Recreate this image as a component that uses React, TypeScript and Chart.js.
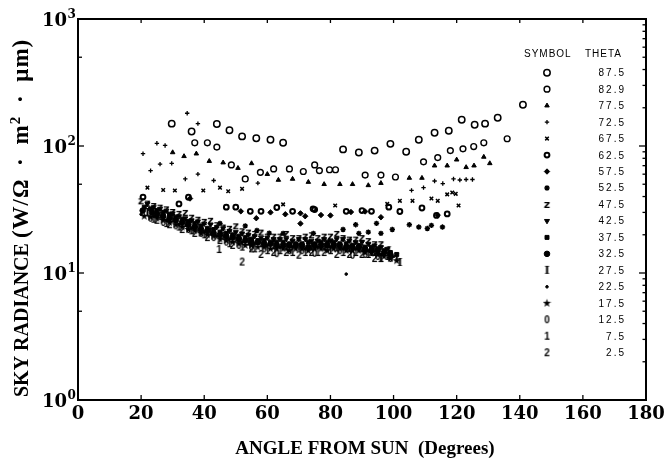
import React, { useEffect, useRef } from 'react';
import { Chart, registerables } from 'chart.js';
import { drawPoint } from 'chart.js/helpers';

Chart.register(...registerables);

type P = [number, number];

const THETA = ['87.5', '82.9', '77.5', '72.5', '67.5', '62.5', '57.5', '52.5', '47.5', '42.5', '37.5', '32.5', '27.5', '22.5', '17.5', '12.5', '7.5', '2.5'];
const X_TICKS = [0, 20, 40, 60, 80, 100, 120, 140, 160, 180];
const Y_DECADES = [1, 10, 100, 1000];
const Y_EXP = ['0', '1', '2', '3'];
const Y_LEFT_MINOR = [5, 50, 500];
const Y_RIGHT_MINOR = [2, 3, 4, 5, 6, 7, 8, 9, 20, 30, 40, 50, 60, 70, 80, 90, 200, 300, 400, 500, 600, 700, 800, 900];
const X_TITLE = 'ANGLE FROM SUN  (Degrees)';
const Y_TITLE_MAIN = 'SKY RADIANCE ';
const Y_TITLE_UNIT = '(W/Ω · m² · μm)';
const LEGEND_HEAD = ['SYMBOL', 'THETA'];

// [angle from sun (deg), sky radiance]
const s875: P[] = [[29.7, 150], [36, 130], [44, 149], [48, 133], [52, 119], [56.5, 115], [61, 112], [65, 106], [84, 94], [89, 89], [94, 92], [99, 104], [104, 90], [108, 112], [113, 127], [117.5, 132], [121.6, 161], [125.7, 147], [129, 150], [133, 167], [141, 211]];
const s829: P[] = [[37, 106], [41, 106], [44, 98], [48.6, 71], [53, 55], [57.8, 62], [62, 66], [67, 66], [71.4, 63], [75, 71], [76.5, 64], [79.7, 65], [81.6, 65], [91, 59], [96, 59], [100.6, 57], [109.5, 75], [114, 81], [118, 92], [122, 95], [125.4, 99], [128.6, 106], [136, 114]];
const s775: P[] = [[30, 89], [33.6, 83], [37.5, 87], [41.6, 76], [46, 74], [50.7, 67], [55, 73], [60, 60], [63.5, 54], [68, 55], [73, 52], [78, 50], [83, 50], [87, 50], [92, 49], [96, 51], [105, 56], [109, 56], [113, 70], [117, 70], [120, 78], [123, 68], [125.5, 70], [128.6, 82], [130.5, 73]];
const s725: P[] = [[20.6, 87], [23, 64], [25, 105], [26, 72], [27.6, 101], [29.7, 73], [34, 55], [34.6, 181], [38, 150], [38, 60], [43, 53.5], [57, 51], [105.7, 44.7], [109.5, 47], [113, 53], [115.6, 50.6], [119, 55], [121, 54], [123, 54.5], [125, 54.5]];
const s675: P[] = [[22, 47], [27, 45], [30.7, 44.6], [39.7, 44.6], [45, 47], [47.6, 44], [52, 46], [65, 34.7], [81.5, 34], [98, 35], [102, 37], [106, 37], [112, 38.6], [114, 37], [117, 41.6], [118.6, 43], [119.7, 42], [120.6, 34]];
const s625: P[] = [[20.6, 39.6], [32, 35], [35, 39.5], [47, 33], [50, 33], [54.6, 30.6], [58, 30.6], [63, 32.8], [68, 30.6], [74.5, 32], [75, 31.6], [85, 30.6], [90, 31], [93, 30.6], [98.5, 33], [102, 30.5], [109, 32.5], [113.6, 28.4], [117, 29.2]];
const s575: P[] = [[35.5, 38.6], [51.6, 30.6], [56.5, 27], [61, 30], [65.7, 29], [70.5, 29.5], [70.5, 24.5], [72, 28], [77, 28.6], [80, 28.4], [86.5, 30.2], [91, 30.5], [96, 27.5], [114, 28.5]];
const s525: P[] = [[45, 24.6], [53, 23.5], [56.7, 21.6], [60.6, 20.6], [65, 20.5], [74.6, 20.5], [84, 22], [88, 24], [89, 20.5], [92, 21], [94.6, 24.6], [96, 20.5], [99.6, 22], [105, 24], [108, 23], [110.7, 22.4], [112, 23.7], [115.5, 23]];
const s475: P[] = [[20, 37], [22, 35.5], [24, 34], [26, 33], [28, 32], [30, 30.5], [32, 29.5], [34, 30], [36, 27.5], [38, 26.5], [40, 25.5], [42, 26], [44, 24], [46, 23], [48, 22.5], [50, 23.5], [52, 21.5], [54, 21], [56, 20.5], [58, 21], [60, 19.5], [62, 19.5], [64, 19.5], [66, 20.5], [68, 19], [70, 19], [72, 19.5], [74, 20], [76, 19], [78, 19.5], [80, 19.5], [82, 20.5], [84, 19], [86, 18.5], [88, 18.5], [90, 19], [92, 18], [94, 17], [96, 17]];
const s425: P[] = [[22, 35], [24, 33], [26, 32], [28, 31], [30, 29.5], [32, 28], [34, 27], [36, 26], [38, 25.5], [40, 24.5], [42, 24], [44, 23], [46, 22.5], [48, 21.5], [50, 21], [52, 20.5], [54, 20], [56, 19.5], [58, 19], [60, 19], [62, 18.5], [64, 18.5], [66, 18.5], [68, 18], [70, 18.5], [72, 18.5], [74, 18], [76, 18], [78, 18.5], [80, 18], [82, 18.5], [84, 18.5], [86, 18], [88, 17.5], [90, 17.5], [92, 17], [94, 16.5], [96, 16], [98, 15.5]];
const s375: P[] = [[21, 33], [23, 32], [25, 31], [27, 30], [29, 29], [31, 27.5], [33, 26.5], [35, 25.5], [37, 24.5], [39, 23.5], [41, 22.5], [43, 22], [45, 21], [47, 20.5], [49, 20], [51, 19.5], [53, 19], [55, 18.5], [57, 18], [59, 18], [61, 17.5], [63, 17.5], [65, 17.5], [67, 17], [69, 17], [71, 17], [73, 17.5], [75, 17], [77, 17.5], [79, 17.5], [81, 17.5], [83, 17], [85, 17], [87, 16.5], [89, 16.5], [91, 16], [93, 16], [95, 15.5], [97, 15], [99, 14.5], [101, 14]];
const s325: P[] = [[20.5, 31], [23.5, 30], [25, 29], [27, 28], [29, 27], [31, 26], [33, 25], [35, 24], [37, 23], [39, 22], [41, 21.5], [43, 20.5], [45, 20], [47, 19.5], [49, 19], [51, 18.5], [53, 18], [55, 17.5], [57, 17.5], [59, 17], [61, 17], [63, 16.5], [65, 16.5], [67, 16.5], [69, 16.5], [71, 16.5], [73, 16], [75, 16.5], [77, 16.5], [79, 16.5], [81, 16.5], [83, 16.5], [85, 16], [87, 16], [89, 16], [91, 15.5], [93, 15], [95, 15], [97, 14.5], [99, 14]];
const s275: P[] = [[22, 30], [26, 28], [30, 26.5], [34, 24.5], [38, 22.5], [42, 21], [46, 19.5], [50, 18.5], [54, 17.5], [58, 17], [62, 16.5], [66, 16], [70, 16], [74, 16], [78, 16], [82, 16], [86, 15.5], [90, 15.5], [93, 14.5], [94, 14.5], [96, 13], [98, 13.5], [98.5, 15], [101, 13.3], [102, 12.1]];
const s225: P[] = [[20, 29], [24, 28], [28, 26], [32, 24], [36, 22.5], [40, 21], [44, 19.5], [48, 18.5], [52, 17.5], [56, 17], [60, 16.5], [64, 16], [68, 16], [72, 15.5], [76, 16], [80, 16], [84, 15.5], [85, 9.8], [88, 15.5], [92, 15], [96, 14], [100, 13.5]];
const s175: P[] = [[21, 28], [23, 27.5], [25, 27], [27, 26], [29, 25], [31, 24], [33, 23], [35, 22], [37, 21.5], [39, 20.5], [41, 20], [43, 19.5], [45, 18.5], [47, 18], [49, 17.5], [51, 17], [53, 16.5], [55, 16.5], [57, 16], [59, 16], [61, 15.5], [63, 15.5], [65, 15.5], [67, 15], [69, 15.5], [71, 15.5], [73, 15], [75, 15.5], [77, 15.5], [79, 15], [81, 15.5], [83, 15.5], [85, 15], [87, 15], [89, 15], [91, 14.5], [93, 14.5], [95, 14], [97, 13.5], [99, 13], [101, 12.5]];
const s125: P[] = [[23, 27], [27, 25], [31, 23.5], [35, 22], [39, 20.5], [43, 19], [47, 17.5], [51, 16.5], [55, 16], [59, 15.5], [63, 14.2], [67, 15], [71, 15], [75, 14.3], [79, 15.5], [83, 15], [87, 13.8], [91, 14], [95, 13.5], [99, 13]];
const s75: P[] = [[24, 26.5], [28, 24.5], [32, 23], [36, 21.5], [40, 20], [44.7, 15.3], [48, 17], [52, 16], [56, 15.5], [60, 15], [64, 15], [68, 14.5], [72, 14.5], [76, 14.5], [80, 15], [84, 14.5], [88, 14.5], [92, 14], [96, 13]];
const s25: P[] = [[25, 26], [29, 24], [33, 22], [37, 20.5], [41, 19], [45, 18], [49, 16.5], [52, 12.2], [55, 15.5], [58, 14], [62, 14.5], [66, 14.5], [70, 13.8], [74, 14.5], [78, 14.5], [82, 14], [86, 14], [90, 14], [94, 13]];

const SERIES: P[][] = [s875, s829, s775, s725, s675, s625, s575, s525, s475, s425, s375, s325, s275, s225, s175, s125, s75, s25];

type Sty = { ps?: string; glyph?: string; gfont?: string; r: number; bw: number; fill: boolean; rot?: number };
const STYLES: Sty[] = [
  { ps: 'circle', r: 3.2, bw: 1.5, fill: false },
  { ps: 'circle', r: 2.9, bw: 1.4, fill: false },
  { ps: 'triangle', r: 2.6, bw: 1, fill: true },
  { ps: 'cross', r: 2.2, bw: 1.3, fill: true },
  { ps: 'crossRot', r: 2.5, bw: 1.5, fill: true },
  { ps: 'circle', r: 2.4, bw: 2, fill: false },
  { ps: 'rectRot', r: 2.7, bw: 1, fill: true },
  { ps: 'star', r: 2.7, bw: 1.4, fill: true },
  { glyph: 'z', gfont: 'bold 11px "DejaVu Sans"', r: 3, bw: 1, fill: true },
  { ps: 'triangle', r: 2.9, bw: 1, fill: true, rot: 180 },
  { ps: 'rect', r: 2.8, bw: 1, fill: true },
  { ps: 'circle', r: 2.8, bw: 1, fill: true },
  { glyph: 'I', gfont: 'bold 11px "DejaVu Serif"', r: 3, bw: 1, fill: true },
  { ps: 'circle', r: 1.3, bw: 1, fill: true },
  { glyph: '★', gfont: '11px "DejaVu Sans"', r: 3, bw: 1, fill: true },
  { glyph: '0', gfont: 'bold 10px "Liberation Sans"', r: 3, bw: 1, fill: true },
  { glyph: '1', gfont: 'bold 10px "Liberation Sans"', r: 3, bw: 1, fill: true },
  { glyph: '2', gfont: 'bold 10px "Liberation Sans"', r: 3, bw: 1, fill: true },
];

function makeGlyph(ch: string, font: string) {
  const c = document.createElement('canvas');
  c.width = 9;
  c.height = 11;
  const g = c.getContext('2d')!;
  g.fillStyle = '#000';
  g.font = font;
  g.textAlign = 'center';
  g.textBaseline = 'middle';
  g.fillText(ch, 4.5, 6);
  return c;
}

export default function App() {
  const ref = useRef<HTMLCanvasElement>(null);

  useEffect(() => {
    const styles: any[] = STYLES.map((s) => (s.glyph ? makeGlyph(s.glyph, s.gfont!) : s.ps));

    const datasets = SERIES.map((d, i) => {
      const st = STYLES[i];
      return {
        label: THETA[i],
        data: d.map(([x, y]) => ({ x, y })),
        pointStyle: styles[i],
        pointRadius: st.r,
        pointHoverRadius: st.r,
        pointRotation: st.rot || 0,
        pointBorderWidth: st.bw,
        borderColor: '#000',
        backgroundColor: st.fill ? '#000' : 'rgba(0,0,0,0)',
        showLine: false,
      };
    });

    const overlay = {
      id: 'overlay',
      afterDraw(chart: any) {
        const ctx: CanvasRenderingContext2D = chart.ctx;
        const ca = chart.chartArea;
        const xs = chart.scales.x;
        const ys = chart.scales.y;
        ctx.save();
        ctx.strokeStyle = '#000';
        ctx.fillStyle = '#000';
        ctx.lineWidth = 2;
        ctx.strokeRect(ca.left, ca.top, ca.right - ca.left, ca.bottom - ca.top);
        const line = (x1: number, y1: number, x2: number, y2: number) => {
          ctx.beginPath();
          ctx.moveTo(x1, y1);
          ctx.lineTo(x2, y2);
          ctx.stroke();
        };
        ctx.lineWidth = 1.3;
        X_TICKS.forEach((v) => {
          const px = xs.getPixelForValue(v);
          line(px, ca.bottom, px, ca.bottom - 5);
          line(px, ca.top, px, ca.top + 4);
        });
        Y_DECADES.forEach((v) => {
          const py = ys.getPixelForValue(v);
          line(ca.left, py, ca.left + 6, py);
          line(ca.right, py, ca.right - 7, py);
        });
        Y_LEFT_MINOR.forEach((v) => {
          const py = ys.getPixelForValue(v);
          line(ca.left, py, ca.left + 4, py);
        });
        Y_RIGHT_MINOR.forEach((v) => {
          const py = ys.getPixelForValue(v);
          line(ca.right, py, ca.right - 3.5, py);
        });

        ctx.font = 'bold 18px "DejaVu Serif"';
        ctx.textAlign = 'center';
        ctx.textBaseline = 'alphabetic';
        X_TICKS.forEach((v) => {
          ctx.fillText(String(v), xs.getPixelForValue(v), 419);
        });
        Y_DECADES.forEach((v, i) => {
          const py = ys.getPixelForValue(v);
          ctx.font = 'bold 18px "DejaVu Serif"';
          ctx.textAlign = 'right';
          ctx.fillText('10', 67, py + 6.5);
          ctx.font = 'bold 12px "DejaVu Serif"';
          ctx.textAlign = 'left';
          ctx.fillText(Y_EXP[i], 67.5, py - 1.5);
        });

        ctx.font = 'bold 19px "Liberation Serif"';
        ctx.textAlign = 'center';
        ctx.fillText(X_TITLE, 365, 454);

        // y title
        ctx.save();
        ctx.translate(28, 0);
        ctx.rotate(-Math.PI / 2);
        ctx.textAlign = 'left';
        const startX = -397;
        const endX = -22;
        ctx.font = 'bold 20px "Liberation Serif"';
        ctx.fillText(Y_TITLE_MAIN, startX, 0);
        let x = startX + ctx.measureText(Y_TITLE_MAIN).width;
        const chars = Array.from(Y_TITLE_UNIT);
        const fontFor = (c: string) => (c === '²' ? 'bold 15px "Liberation Serif"' : 'bold 23px "Liberation Serif"');
        let natural = 0;
        let spaces = 0;
        chars.forEach((c) => {
          ctx.font = fontFor(c);
          natural += ctx.measureText(c === '²' ? '2' : c).width;
          if (c === ' ') spaces++;
        });
        const extra = Math.max(0, Math.min(7, (endX - x - natural - chars.length) / spaces));
        chars.forEach((c) => {
          ctx.font = fontFor(c);
          const t = c === '²' ? '2' : c;
          ctx.fillText(t, x, c === '²' ? -8 : 0);
          x += ctx.measureText(t).width + (c === ' ' ? extra : 1);
        });
        ctx.restore();

        // legend
        ctx.font = '10px "Liberation Sans"';
        ctx.textAlign = 'left';
        (ctx as any).letterSpacing = '1px';
        ctx.fillText(LEGEND_HEAD[0], 524, 57);
        ctx.fillText(LEGEND_HEAD[1], 585, 57);
        THETA.forEach((t, i) => {
          const y = 72.7 + i * 16.47;
          const st = STYLES[i];
          ctx.fillStyle = st.fill ? '#000' : 'rgba(0,0,0,0)';
          ctx.strokeStyle = '#000';
          ctx.lineWidth = st.bw;
          drawPoint(ctx, { pointStyle: styles[i], rotation: st.rot || 0, radius: st.r, borderWidth: st.bw } as any, 547, y);
          ctx.fillStyle = '#000';
          ctx.font = '10px "Liberation Sans"';
          ctx.textAlign = 'right';
          (ctx as any).letterSpacing = '2px';
          ctx.fillText(t, 626, y + 3.5);
        });
        (ctx as any).letterSpacing = '0px';
        ctx.restore();
      },
    };

    const chart = new Chart(ref.current!, {
      type: 'scatter',
      data: { datasets } as any,
      options: {
        animation: false,
        responsive: false,
        devicePixelRatio: 1,
        events: [],
        layout: { padding: { left: 0, top: 19, right: 18, bottom: 0 } },
        plugins: { legend: { display: false }, tooltip: { enabled: false } },
        scales: {
          x: {
            type: 'linear',
            min: 0,
            max: 180,
            afterFit: (s: any) => {
              s.height = 65;
            },
            grid: { display: false, drawTicks: false },
            border: { display: false },
            ticks: { display: false },
          },
          y: {
            type: 'logarithmic',
            min: 1,
            max: 1000,
            afterFit: (s: any) => {
              s.width = 78;
            },
            grid: { display: false, drawTicks: false },
            border: { display: false },
            ticks: { display: false },
          },
        },
      } as any,
      plugins: [overlay],
    });
    return () => chart.destroy();
  }, []);

  return (
    <div style={{ position: 'absolute', left: 0, top: 0, width: 664, height: 465, background: '#fff' }}>
      <canvas ref={ref} width={664} height={465} style={{ display: 'block' }} />
    </div>
  );
}
